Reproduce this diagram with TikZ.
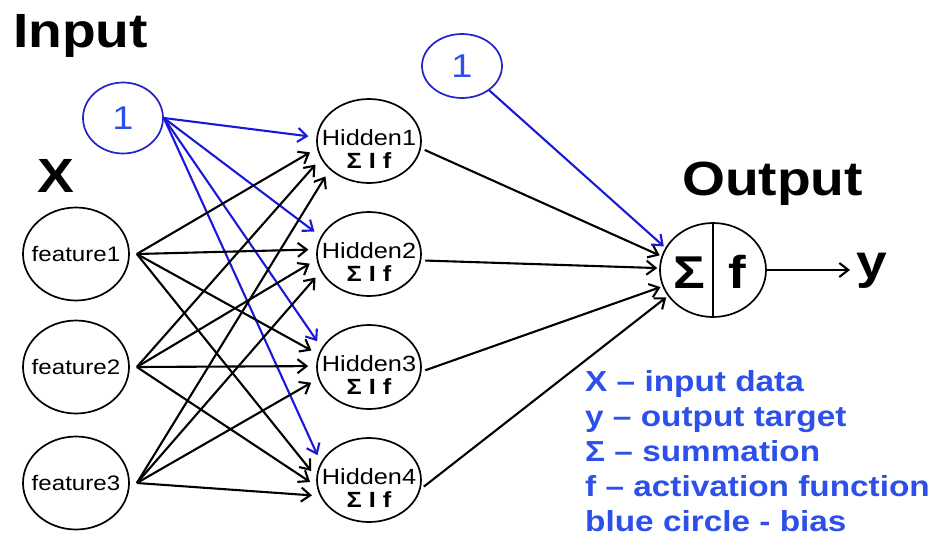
\documentclass[tikz,border=0pt]{standalone}
\usepackage{fontspec}
\setmainfont[FakeStretch=1.15]{Liberation Sans}
\usetikzlibrary{arrows.meta,calc,shapes.geometric}
\definecolor{biasblue}{RGB}{25,25,215}
\definecolor{txtblue}{RGB}{45,80,235}
\definecolor{circblue}{RGB}{35,35,200}
\tikzset{
  neuron/.style={ellipse,draw=black,line width=1.7pt,inner sep=0pt},
  feat/.style={neuron,minimum width=106pt,minimum height=93pt},
  ftext/.style={font=\fontsize{21}{21}\selectfont,inner sep=0pt},
  hid/.style={neuron,minimum width=104pt,minimum height=84pt},
  biasc/.style={ellipse,draw=circblue,line width=1.7pt,minimum width=80pt,minimum height=71pt,inner sep=0pt,text=txtblue,font=\fontsize{33}{33}\selectfont},
  conn/.style={line width=2.1pt,-{Straight Barb[length=9pt,width=14pt]}},
  bconn/.style={conn,draw=biasblue},
  big/.style={font=\fontsize{48}{48}\selectfont\bfseries,inner sep=0pt,anchor=base west},
  legend/.style={font=\fontsize{29}{29}\selectfont\bfseries,text=txtblue,inner sep=0pt,anchor=base west},
  hname/.style={font=\fontsize{22}{22}\selectfont,inner sep=0pt,anchor=base},
  hsym/.style={font=\fontsize{22}{22}\selectfont\bfseries,inner sep=0pt,anchor=base},
  osym/.style={font=\fontsize{46}{46}\selectfont\bfseries,inner sep=0pt,anchor=base},
}
\begin{document}
\begin{tikzpicture}[x=1pt,y=-1pt]
\fill[white] (0,0) rectangle (939,541);
\useasboundingbox (0,0) rectangle (939,541);

% titles
\node[big] (tin) at (13,47) {Input};
\node[big] (tx) at (37,192) {X};
\node[big] (tout) at (682,195) {Output};

% input features
\foreach \i/\y in {1/254,2/367,3/483}{
  \node[feat] (f\i) at (76,\y) {};
  \node[ftext] (ft\i) at (f\i.center) {feature\i};
  \coordinate (f\i o) at ($(f\i.east)+(7,0)$);
}

% bias circles
\node[biasc] (b1) at (123,118) {1};
\node[biasc,minimum height=64pt] (b2) at (462,66) {1};

% hidden layer
\foreach \i/\y in {1/141,2/254,3/367,4/480}{
  \node[hid] (h\i) at (369,\y) {};
  \node[hname] (hn\i) at ($(h\i.center)+(0,4)$) {Hidden\i};
  \node[hsym] (hs\i) at ($(h\i.center)+(0,27)$) {Σ I f};
}

% output neuron
\node[neuron,minimum width=106pt,minimum height=94pt] (out) at (713,270) {};
\draw[line width=1.7pt] (out.north) -- (out.south);
\node[osym] (osig) at (689,288) {Σ};
\node[osym] (of) at (737,288) {f};
\node[big] (y) at (856,278) {y};
\draw[conn,shorten >=6pt] (out.east) -- (out.east -| y.west);

% bias 1 -> hidden
\draw[bconn,shorten >=8pt] (b1.east) -- (h1.176);
\draw[bconn,shorten >=8pt] (b1.east) -- (h2.160);
\draw[bconn,shorten >=8pt] (b1.east) -- (h3.158);
\draw[bconn,shorten >=8pt] (b1.east) -- (h4.160);

% features -> hidden
\draw[conn,shorten >=8pt] (f1o) -- (h1.188);
\draw[conn,shorten >=8pt] (f1o) -- (h2.175);
\draw[conn,shorten >=8pt] (f1o) -- (h3.166);
\draw[conn,shorten >=8pt] (f1o) -- (h4.177);
\draw[conn,shorten >=8pt] (f2o) -- (h1.200);
\draw[conn,shorten >=8pt] (f2o) -- (h2.186);
\draw[conn,shorten >=8pt] (f2o) -- (h3.179);
\draw[conn,shorten >=8pt] (f2o) -- (h4.187);
\draw[conn,shorten >=8pt] (f3o) -- (h1.216);
\draw[conn,shorten >=8pt] (f3o) -- (h2.200);
\draw[conn,shorten >=8pt] (f3o) -- (h3.193);
\draw[conn,shorten >=8pt] (f3o) -- (h4.198);

% hidden -> output
\draw[conn,shorten <=4pt,shorten >=2pt] (h1.-8) -- (out.165);
\draw[conn,shorten <=4pt,shorten >=2pt] (h2.-7) -- (out.178);
\draw[conn,shorten <=4pt,shorten >=2pt] (h3.-5) -- (out.198);
\draw[conn,shorten <=4pt,shorten >=2pt] (h4.-10) -- (out.210);

% bias 2 -> output
\draw[bconn,shorten >=2pt] (b2) -- (out.155);

% legend
\node[legend] (l1) at (585,391) {X – input data};
\node[legend] (l2) at (585,426) {y – output target};
\node[legend] (l3) at (585,461) {Σ – summation};
\node[legend] (l4) at (585,496) {f – activation function};
\node[legend] (l5) at (585,531) {blue circle - bias};
\end{tikzpicture}
\end{document}
